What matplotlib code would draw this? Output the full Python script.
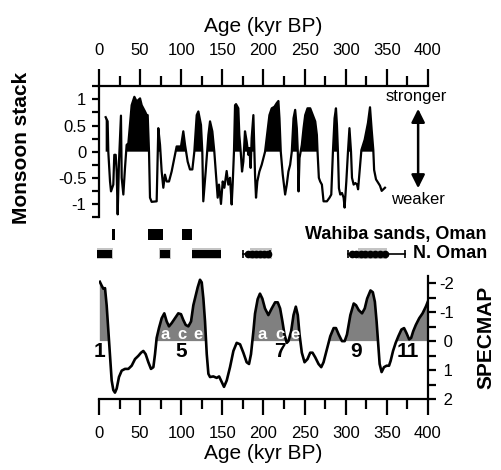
import numpy as np
import matplotlib
matplotlib.use('Agg')
import matplotlib.pyplot as plt
from matplotlib.ticker import MultipleLocator

plt.rcParams['font.family'] = ['Liberation Sans', 'DejaVu Sans']
plt.rcParams['axes.unicode_minus'] = False

# ---------------- data ----------------
monsoon_age = [8.1, 10.5, 11.3, 13.4, 14.6, 17.4, 18.6, 20.3, 21.5, 22.7, 24.3, 26.7, 27.6, 29.6,
               31.6, 33.6, 35.7, 39.7, 43.0, 45.8, 49.9, 51.9, 55.9, 58.0, 59.2, 60.8, 62.0, 64.0,
               70.1, 72.1, 74.2, 76.2, 78.2, 80.2, 82.3, 85.1, 88.3, 92.4, 94.4, 99.7, 102.5, 104.6,
               107.8, 110.6, 113.5, 115.9, 118.8, 120.8, 124.0, 125.6, 126.8, 129.7, 133.0, 135.0,
               137.8, 140.2, 142.3, 144.3, 145.9, 148.3, 150.4, 152.4, 155.2, 157.2, 159.3, 161.3,
               162.5, 164.1, 165.4, 166.6, 169.4, 170.6, 172.3, 173.9, 175.5, 177.5, 179.5, 181.6,
               182.8, 184.4, 185.6, 187.7, 188.9, 189.7, 190.9, 192.5, 195.0, 197.8, 201.9, 203.9,
               207.2, 210.0, 213.3, 216.1, 218.1, 219.4, 221.0, 223.4, 226.3, 228.3, 230.3, 232.4,
               234.4, 236.5, 238.5, 240.5, 241.7, 242.6, 243.8, 246.6, 248.7, 250.7, 253.5, 256.8,
               260.0, 262.9, 264.9, 265.7, 267.3, 268.9, 271.0, 273.0, 277.1, 280.3, 282.4, 284.4,
               286.4, 288.1, 289.3, 290.5, 291.7, 293.3, 295.4, 297.4, 298.6, 300.7, 302.7, 304.5,
               306.4, 307.6, 309.6, 311.7, 313.7, 315.0, 319.0, 323.0, 327.0, 329.5, 331.5, 333.5,
               334.5, 336.8, 339.6, 341.6, 343.7, 345.7, 347.7]
monsoon_val = [0.66, 0.58, 0.0, -0.57, -0.76, -0.63, -0.06, -0.06, -0.38, -1.2, -0.19, 0.69, -0.50, -0.82,
               -0.31, 0.13, 0.16, 0.89, 1.05, 0.96, 1.02, 0.89, 0.77, 0.70, 0.70, 0.0, -0.88, -0.96,
               -0.95, 0.45, 0.13, -0.38, -0.69, -0.44, -0.57, -0.57, -0.38, -0.06, 0.10, 0.10, 0.39, 0.13,
               -0.19, -0.34, -0.34, 0.0, 0.70, 0.77, 0.51, 0.0, -0.95, -0.38, 0.32, 0.58,
               0.39, 0.0, -0.44, -0.88, -0.63, -1.0, -0.57, -0.69, -0.37, -0.63, -0.50, -1.01,
               -0.63, 0.0, 0.89, 0.91, 0.83, 0.32, 0.0, -0.38, -0.19, 0.39, 0.20, -0.06,
               0.07, -0.31, 0.26, 0.70, 0.0, -0.44, -0.88, -0.57, -0.38, -0.25, 0.0, 0.26,
               0.70, 0.83, 0.86, 0.93, 0.97, 0.64, 0.0, -0.44, -0.82, -0.63, -0.38, -0.25,
               0.0, 0.64, 0.80, 0.45, 0.0, -0.76, -0.12, 0.13, 0.45, 0.70, 0.83, 0.83,
               0.70, 0.58, 0.32, 0.0, -0.50, -0.57, -0.63, -0.95, -0.95, -0.88, -0.82, 0.0,
               0.64, 0.83, 0.51, 0.0, -0.70, -0.82, -0.79, -0.88, -1.07, -0.57, 0.0, 0.45,
               0.0, -0.50, -0.63, -0.60, -0.63, -0.72, 0.03, 0.23, 0.55, 0.85, 0.42, 0.03,
               -0.35, -0.53, -0.60, -0.65, -0.75, -0.72, -0.69]

specmap_age = [1.0, 3.2, 5.3, 7.3, 9.3, 11.3, 13.4, 15.4, 17.4, 19.4, 21.5, 24.3, 27.6, 31.6, 35.7,
               39.7, 43.8, 47.8, 51.1, 53.9, 56.7, 60.0, 63.2, 66.1, 68.1, 70.1, 72.9, 76.2, 79.4,
               82.3, 85.1, 88.3, 92.4, 96.4, 99.7, 102.5, 105.4, 108.6, 111.9, 114.7, 116.7, 120.0,
               122.8, 124.9, 126.9, 128.9, 131.0, 133.0, 135.0, 139.0, 143.1, 146.0, 149.2, 152.0,
               155.3, 159.3, 163.4, 167.4, 171.5, 175.5, 179.5, 182.4, 184.8, 187.7, 189.7, 192.9,
               195.7, 198.6, 201.8, 205.9, 210.0, 214.1, 217.3, 220.2, 223.0, 225.5, 228.3, 230.3,
               233.6, 236.5, 239.3, 241.7, 243.8, 246.6, 249.9, 253.5, 256.8, 259.6, 262.9, 266.9,
               270.2, 273.0, 277.1, 281.2, 285.3, 288.1, 291.4, 295.4, 298.7, 301.5, 305.6, 309.7,
               312.5, 315.8, 319.8, 323.1, 326.0, 330.1, 332.9, 335.4, 337.5, 339.5, 341.2, 343.6,
               346.5, 349.7, 352.6, 354.6, 357.5, 360.7, 364.0, 367.7, 370.9, 373.8, 377.1, 379.5,
               382.0, 385.2, 389.3, 393.4, 397.5, 400.0]
specmap_val = [-2.05, -1.92, -1.81, -1.83, -1.24, -0.37, 0.56, 1.36, 1.69, 1.78, 1.64, 1.24, 1.02, 0.96, 0.96,
               0.85, 0.62, 0.51, 0.40, 0.34, 0.45, 0.73, 0.96, 0.90, 0.45, -0.11, -0.45, -0.79, -0.96,
               -0.68, -0.51, -0.62, -0.79, -0.96, -0.93, -0.73, -0.56, -0.51, -0.68, -1.24, -1.47, -1.86,
               -2.12, -2.03, -1.47, -0.68, 0.45, 1.13, 1.24, 1.22, 1.27, 1.22, 1.41, 1.58,
               1.36, 0.90, 0.34, 0.06, 0.11, 0.40, 0.73, 0.79, 0.45, -0.34, -0.95, -1.45,
               -1.64, -1.47, -1.13, -0.90, -1.13, -1.34, -1.34, -1.13, -0.68, -0.23, 0.06, 0.0,
               -0.34, -0.90, -1.19, -0.90, -0.23, 0.40, 0.73, 0.62, 0.40, 0.40, 0.56, 0.79,
               0.90, 0.73, 0.28, -0.17, -0.45, -0.45, -0.23, 0.0, 0.0, -0.23, -0.90, -1.30,
               -1.24, -1.07, -0.96, -1.13, -1.47, -1.75, -1.69, -1.36, -0.68, 0.11, 0.79, 1.07,
               0.90, 0.85, 0.85, 0.68, 0.34, 0.06, -0.17, -0.40, -0.45, -0.28, -0.06, -0.11,
               -0.34, -0.56, -0.79, -0.96, -1.20, -1.38]

age_ticks = [0, 50, 100, 150, 200, 250, 300, 350, 400]
monsoon_ticks = [1, 0.5, 0, -0.5, -1]
monsoon_tick_labels = ['1', '0.5', '0', '-0.5', '-1']
specmap_ticks = [-2, -1, 0, 1, 2]
specmap_tick_labels = ['-2', '-1', ' 0', ' 1', ' 2']

wahiba_start = [15.4, 60.0, 100.5]
wahiba_end = [19.5, 77.4, 112.7]

noman_grey_start = [-2.8, 73.3, 112.7, 183.6, 315.0]
noman_grey_end = [16.6, 87.1, 148.0, 210.0, 350.0]
noman_black_start = [-2.0, 74.0, 113.0]
noman_black_end = [15.4, 86.0, 148.0]
noman_err_start = [175.5, 303.0]
noman_err_end = [208.0, 372.0]
noman_dates = [181, 186, 191, 196, 201, 205, 308, 313, 318, 324, 330, 336, 342, 348]

stage_labels = ['1', '5', '7', '9', '11']
stage_ages = [1.2, 100.5, 220.0, 313.0, 376.0]
substage_labels = ['a', 'c', 'e', 'a', 'c', 'e']
substage_ages = [80.2, 100.5, 120.7, 197.8, 220.0, 238.3]

# ---------------- figure ----------------
fig = plt.figure(figsize=(5.02, 4.70), dpi=100)
W, H = 502.0, 470.0

def rect(x0, y0, x1, y1):
    return [x0 / W, 1 - y1 / H, (x1 - x0) / W, (y1 - y0) / H]

lw_ax = 1.6

# ---- top panel: monsoon stack ----
ax1 = fig.add_axes(rect(99, 86, 428, 217))
ma = np.array(monsoon_age); mv = np.array(monsoon_val)
ax1.fill_between(ma, mv, 0, where=mv > 0, interpolate=True, color='black', lw=0)
ax1.plot(ma, mv, color='black', lw=1.6)
ax1.set_xlim(0, 400)
ax1.set_ylim(-1.25, 1.257)
for s in ['bottom', 'right']:
    ax1.spines[s].set_visible(False)
for s in ['top', 'left']:
    ax1.spines[s].set_linewidth(lw_ax)
ax1.xaxis.tick_top()
ax1.xaxis.set_label_position('top')
ax1.set_xticks(age_ticks)
ax1.xaxis.set_minor_locator(MultipleLocator(25))
ax1.tick_params(axis='x', which='major', direction='out', length=12, width=lw_ax, labelsize=12, pad=8)
ax1.tick_params(axis='x', which='minor', direction='out', length=7.5, width=lw_ax)
ax1.set_yticks(monsoon_ticks)
ax1.set_yticklabels(monsoon_tick_labels)
ax1.yaxis.set_minor_locator(MultipleLocator(0.25))
ax1.tick_params(axis='y', which='both', direction='out', length=5, width=lw_ax, labelsize=12, pad=4)
ax1.set_xlabel('Age (kyr BP)', fontsize=15, labelpad=8)
ax1.set_ylabel('Monsoon stack', fontsize=15, fontweight='bold')
ax1.yaxis.set_label_coords(-0.237, 0.527)
ax1.yaxis.label.set_va('center')

ax1.annotate('', xy=(388, 0.82), xytext=(388, -0.70),
             arrowprops=dict(arrowstyle='<|-|>', color='black', lw=1.8, mutation_scale=20,
                             shrinkA=0, shrinkB=0),
             annotation_clip=False)
ax1.text(386, 1.05, 'stronger', fontsize=12, ha='center', va='center', clip_on=False)
ax1.text(388, -0.92, 'weaker', fontsize=12, ha='center', va='center', clip_on=False)

# ---- middle: dated deposits ----
axm = fig.add_axes(rect(99, 222, 428, 264))
axm.set_xlim(0, 400)
axm.set_ylim(1.536, -0.651)
axm.axis('off')
for s0, s1 in zip(wahiba_start, wahiba_end):
    axm.barh(0, s1 - s0, left=s0, height=0.61, color='black', clip_on=False)
for s0, s1 in zip(noman_grey_start, noman_grey_end):
    axm.barh(1, s1 - s0, left=s0, height=0.58, color='#c4c4c4', clip_on=False, lw=0)
for s0, s1 in zip(noman_black_start, noman_black_end):
    axm.barh(1, s1 - s0, left=s0, height=0.42, color='black', clip_on=False, lw=0)
for s0, s1 in zip(noman_err_start, noman_err_end):
    axm.plot([s0, s1], [1, 1], color='black', lw=1.2, clip_on=False)
    axm.plot([s0, s1], [1, 1], ls='none', marker='|', ms=6, mew=1.2, color='black', clip_on=False)
axm.plot(noman_dates, [1] * len(noman_dates), ls='none', marker='o', ms=4.5, color='black', clip_on=False)
axm.text(471.7, 0, 'Wahiba sands, Oman', fontsize=13, fontweight='bold', ha='right', va='center', clip_on=False)
axm.text(471.7, 1, 'N. Oman', fontsize=13, fontweight='bold', ha='right', va='center', clip_on=False)

# ---- bottom panel: SPECMAP ----
ax2 = fig.add_axes(rect(99, 276, 428, 399))
sa = np.array(specmap_age); sv = np.array(specmap_val)
ax2.fill_between(sa, sv, 0, where=sv < 0, interpolate=True, color='#808080', lw=0)
ax2.plot(sa, sv, color='black', lw=1.9)
ax2.set_xlim(0, 400)
ax2.set_ylim(2, -2.25)
for s in ['top', 'left']:
    ax2.spines[s].set_visible(False)
for s in ['bottom', 'right']:
    ax2.spines[s].set_linewidth(lw_ax)
ax2.set_xticks(age_ticks)
ax2.xaxis.set_minor_locator(MultipleLocator(25))
ax2.tick_params(axis='x', which='major', direction='out', length=11.5, width=lw_ax, labelsize=12, pad=8)
ax2.tick_params(axis='x', which='minor', direction='out', length=7.5, width=lw_ax)
ax2.yaxis.tick_right()
ax2.yaxis.set_label_position('right')
ax2.set_yticks(specmap_ticks)
ax2.set_yticklabels(specmap_tick_labels)
ax2.yaxis.set_minor_locator(MultipleLocator(0.5))
ax2.tick_params(axis='y', which='both', direction='out', length=6, width=lw_ax, labelsize=12, pad=2)
ax2.set_xlabel('Age (kyr BP)', fontsize=15, labelpad=2)
ax2.set_ylabel('SPECMAP', fontsize=15, fontweight='bold')
ax2.yaxis.set_label_coords(1.176, 0.5)
ax2.yaxis.label.set_va('center')

for lab, a in zip(stage_labels, stage_ages):
    ax2.text(a, 0.37, lab, fontsize=15, fontweight='bold', ha='center', va='center')
for lab, a in zip(substage_labels, substage_ages):
    ax2.text(a, -0.24, lab, fontsize=12, fontweight='bold', color='white', ha='center', va='center')

fig.savefig('out.png', dpi=100)
